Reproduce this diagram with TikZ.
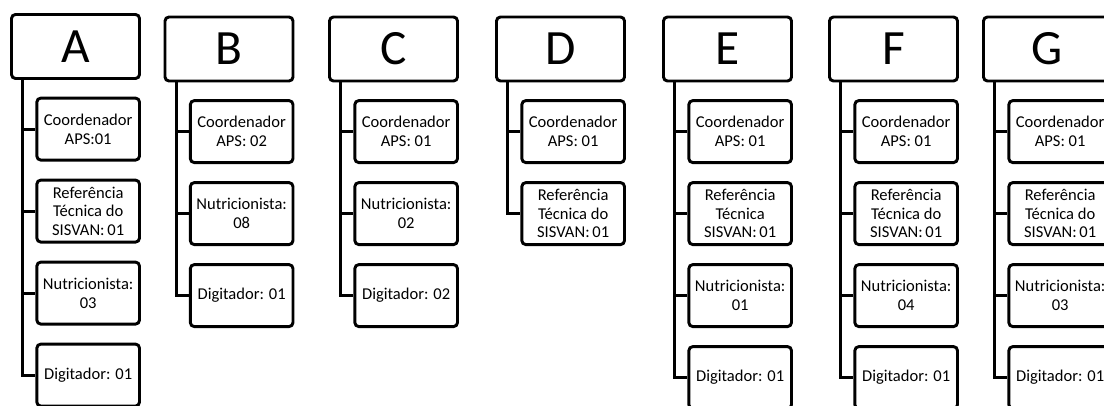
\documentclass[tikz,border=0pt]{standalone}
\usepackage{fontspec}
\setmainfont{Carlito}
\usetikzlibrary{positioning}

\begin{document}
\begin{tikzpicture}[x=0.75pt, y=-0.75pt, line width=2.2pt,
    head node/.style={draw, rounded corners=3pt, minimum width=96pt, minimum height=48pt, inner sep=0pt, font=\fontsize{37}{40}\selectfont},
    item node/.style={draw, rounded corners=3pt, minimum width=77pt, minimum height=46.5pt, inner sep=1pt, align=center, font=\fontsize{12.4}{14}\selectfont}]

    \useasboundingbox (0,0) rectangle (1104,406);
    \clip (0,0) rectangle (1104,406);

    % A
    \node[head node] (A) at (75.5,46.5) {A};
    \node[item node] (A1) [below left=12.5pt and 0pt of A.south east] {Coordenador\\APS:01};
    \node[item node] (A2) [below=12.8pt of A1] {Referência\\Técnica do\\SISVAN:\,01};
    \node[item node] (A3) [below=12.8pt of A2] {Nutricionista:\\03};
    \node[item node] (A4) [below=12.8pt of A3] {Digitador: 01};

    % B
    \node[head node] (B) at (229,49) {B};
    \node[item node] (B1) [below left=12.5pt and 0pt of B.south east] {Coordenador\\APS: 02};
    \node[item node] (B2) [below=12.8pt of B1] {Nutricionista:\\08};
    \node[item node] (B3) [below=12.8pt of B2] {Digitador: 01};

    % C
    \node[head node] (C) at (393.5,49) {C};
    \node[item node] (C1) [below left=12.5pt and 0pt of C.south east] {Coordenador\\APS: 01};
    \node[item node] (C2) [below=12.8pt of C1] {Nutricionista:\\02};
    \node[item node] (C3) [below=12.8pt of C2] {Digitador: 02};

    % D
    \node[head node] (D) at (560.5,49) {D};
    \node[item node] (D1) [below left=12.5pt and 0pt of D.south east] {Coordenador\\APS: 01};
    \node[item node] (D2) [below=12.8pt of D1] {Referência\\Técnica do\\SISVAN:\,01};

    % E
    \node[head node] (E) at (727.5,49) {E};
    \node[item node] (E1) [below left=12.5pt and 0pt of E.south east] {Coordenador\\APS: 01};
    \node[item node] (E2) [below=12.8pt of E1] {Referência\\Técnica\\SISVAN:\,01};
    \node[item node] (E3) [below=12.8pt of E2] {Nutricionista:\\01};
    \node[item node] (E4) [below=12.8pt of E3] {Digitador: 01};

    % F
    \node[head node] (F) at (893.5,49) {F};
    \node[item node] (F1) [below left=12.5pt and 0pt of F.south east] {Coordenador\\APS: 01};
    \node[item node] (F2) [below=12.8pt of F1] {Referência\\Técnica do\\SISVAN:\,01};
    \node[item node] (F3) [below=12.8pt of F2] {Nutricionista:\\04};
    \node[item node] (F4) [below=12.8pt of F3] {Digitador: 01};

    % G
    \node[head node] (G) at (1047.5,49) {G};
    \node[item node] (G1) [below left=12.5pt and 0pt of G.south east] {Coordenador\\APS: 01};
    \node[item node] (G2) [below=12.8pt of G1] {Referência\\Técnica do\\SISVAN:\,01};
    \node[item node] (G3) [below=12.8pt of G2] {Nutricionista:\\03};
    \node[item node] (G4) [below=12.8pt of G3] {Digitador: 01};

    \draw ([xshift=9.5pt]A.south west) |- (A1.west)
          ([xshift=9.5pt]A.south west) |- (A2.west)
          ([xshift=9.5pt]A.south west) |- (A3.west)
          ([xshift=9.5pt]A.south west) |- (A4.west);
    \draw ([xshift=9.5pt]B.south west) |- (B1.west)
          ([xshift=9.5pt]B.south west) |- (B2.west)
          ([xshift=9.5pt]B.south west) |- (B3.west);
    \draw ([xshift=9.5pt]C.south west) |- (C1.west)
          ([xshift=9.5pt]C.south west) |- (C2.west)
          ([xshift=9.5pt]C.south west) |- (C3.west);
    \draw ([xshift=9.5pt]D.south west) |- (D1.west)
          ([xshift=9.5pt]D.south west) |- (D2.west);
    \draw ([xshift=9.5pt]E.south west) |- (E1.west)
          ([xshift=9.5pt]E.south west) |- (E2.west)
          ([xshift=9.5pt]E.south west) |- (E3.west)
          ([xshift=9.5pt]E.south west) |- (E4.west);
    \draw ([xshift=9.5pt]F.south west) |- (F1.west)
          ([xshift=9.5pt]F.south west) |- (F2.west)
          ([xshift=9.5pt]F.south west) |- (F3.west)
          ([xshift=9.5pt]F.south west) |- (F4.west);
    \draw ([xshift=9.5pt]G.south west) |- (G1.west)
          ([xshift=9.5pt]G.south west) |- (G2.west)
          ([xshift=9.5pt]G.south west) |- (G3.west)
          ([xshift=9.5pt]G.south west) |- (G4.west);
\end{tikzpicture}
\end{document}
